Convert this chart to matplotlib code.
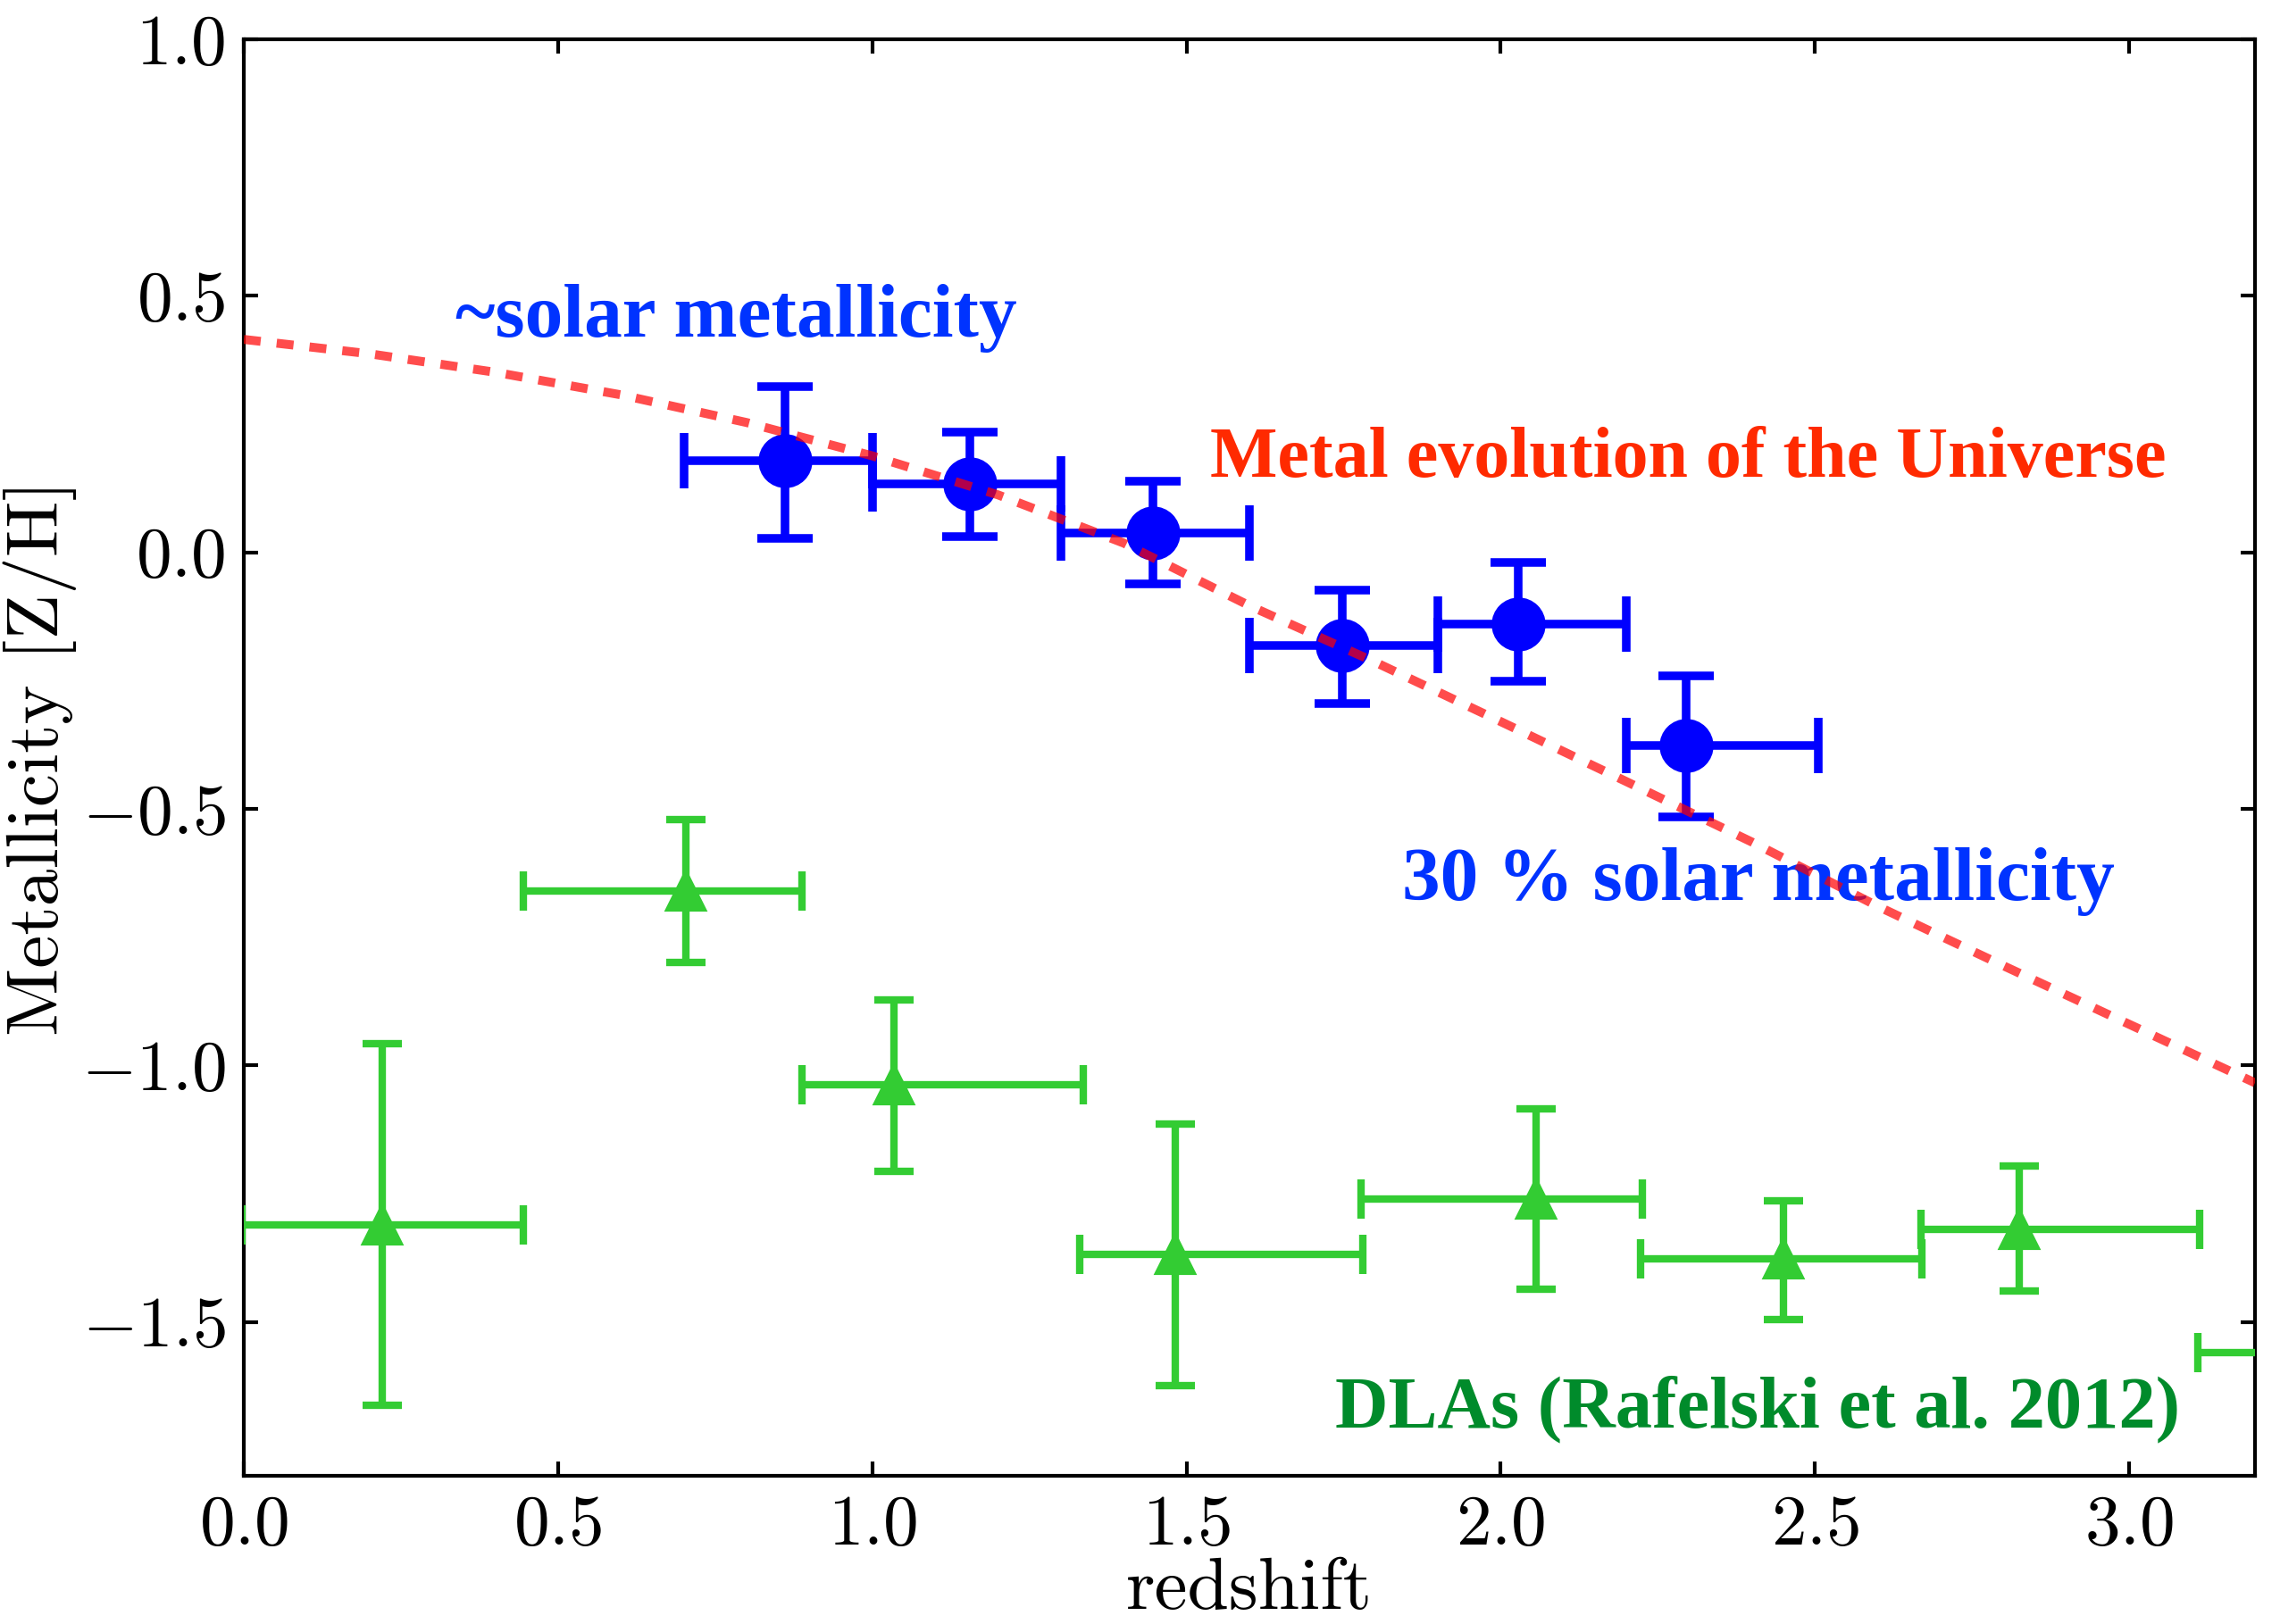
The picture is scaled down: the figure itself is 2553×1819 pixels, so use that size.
import numpy as np
import matplotlib
matplotlib.use("Agg")
import matplotlib.pyplot as plt

# galaxies (blue): redshift bins and metallicity
gal_z = [0.861, 1.155, 1.447, 1.748, 2.028, 2.295]
gal_zlo = [0.70, 1.00, 1.30, 1.60, 1.90, 2.20]
gal_zhi = [1.00, 1.30, 1.60, 1.90, 2.20, 2.505]
gal_met = [0.179, 0.133, 0.037, -0.181, -0.139, -0.377]
gal_met_hi = [0.323, 0.235, 0.139, -0.074, -0.020, -0.241]
gal_met_lo = [0.028, 0.031, -0.062, -0.295, -0.252, -0.516]

# DLAs (Rafelski et al. 2012)
dla_z = [0.22, 0.703, 1.035, 1.482, 2.056, 2.45, 2.825, 3.333]
dla_zlo = [-0.003, 0.445, 0.888, 1.33, 1.777, 2.223, 2.668, 3.109]
dla_zhi = [0.445, 0.888, 1.335, 1.78, 2.225, 2.67, 3.112, 3.56]
dla_met = [-1.311, -0.660, -1.037, -1.369, -1.261, -1.377, -1.320, -1.560]
dla_met_hi = [-0.958, -0.521, -0.873, -1.114, -1.085, -1.264, -1.196, -1.41]
dla_met_lo = [-1.663, -0.799, -1.207, -1.624, -1.437, -1.496, -1.440, -1.71]

# metal evolution of the Universe (dashed curve)
curve_z = [0.0, 0.2, 0.4, 0.6, 0.8, 1.0, 1.2, 1.4, 1.6, 1.8, 2.0,
           2.2, 2.4, 2.6, 2.8, 3.0, 3.2]
curve_met = [0.415, 0.387, 0.351, 0.307, 0.253, 0.188, 0.112, 0.018, -0.104,
             -0.214, -0.330, -0.447, -0.565, -0.690, -0.806, -0.920, -1.034]

plt.rcParams["font.family"] = "serif"
plt.rcParams["font.serif"] = ["cmr10"]
plt.rcParams["mathtext.fontset"] = "cm"
plt.rcParams["axes.formatter.use_mathtext"] = True
plt.rcParams["axes.unicode_minus"] = True


def asym(c, lo, hi):
    c, lo, hi = np.array(c), np.array(lo), np.array(hi)
    return [c - lo, hi - c]


fig = plt.figure(figsize=(2553 / 300, 1819 / 300), dpi=300)
ax = fig.add_axes([273 / 2553, 1 - 1653 / 1819, (2525 - 273) / 2553, (1653 - 44) / 1819])

ax.errorbar(gal_z, gal_met, xerr=asym(gal_z, gal_zlo, gal_zhi),
            yerr=asym(gal_met, gal_met_lo, gal_met_hi),
            fmt="o", color="#0000ff", ms=13.5, elinewidth=2.3,
            capsize=7.5, capthick=2.3, zorder=3)
ax.errorbar(dla_z, dla_met, xerr=asym(dla_z, dla_zlo, dla_zhi),
            yerr=asym(dla_met, dla_met_lo, dla_met_hi),
            fmt="^", color="#33cc33", ms=10, elinewidth=2.0,
            capsize=5.2, capthick=2.0, zorder=3)
ax.plot(curve_z, curve_met, color="red", alpha=0.7, lw=2.4,
        dashes=(1.9, 1.8), zorder=5)

tfont = dict(family="Liberation Serif", weight="bold", zorder=1)
ax.text(0.337, 0.42, "~solar metallicity", color="#0033ff", fontsize=20.5, **tfont)
ax.text(1.538, 0.147, "Metal evolution of the Universe", color="#ff2a00",
        fontsize=19.2, **tfont)
ax.text(1.843, -0.678, "30 % solar metallicity", color="#0033ff", fontsize=20.5, **tfont)
ax.text(1.737, -1.705, "DLAs (Rafelski et al. 2012)", color="#008b2b",
        fontsize=19.8, **tfont)

ax.set_xlim(0, 3.2)
ax.set_ylim(-1.8, 1.0)
ax.set_xticks(np.arange(0, 3.01, 0.5))
ax.set_yticks(np.arange(-1.5, 1.01, 0.5))
ax.tick_params(direction="in", top=True, right=True, length=3.8, width=1.0,
               labelsize=19, pad=5)
for sp in ax.spines.values():
    sp.set_linewidth(1.0)
ax.set_xlabel("redshift", fontsize=20)
ax.set_ylabel("Metallicity [Z/H]", fontsize=20)
ax.xaxis.set_label_coords(0.5, -0.057)
ax.yaxis.set_label_coords(-0.083, 0.5)

fig.savefig("out.png", dpi=300)
plt.close(fig)
